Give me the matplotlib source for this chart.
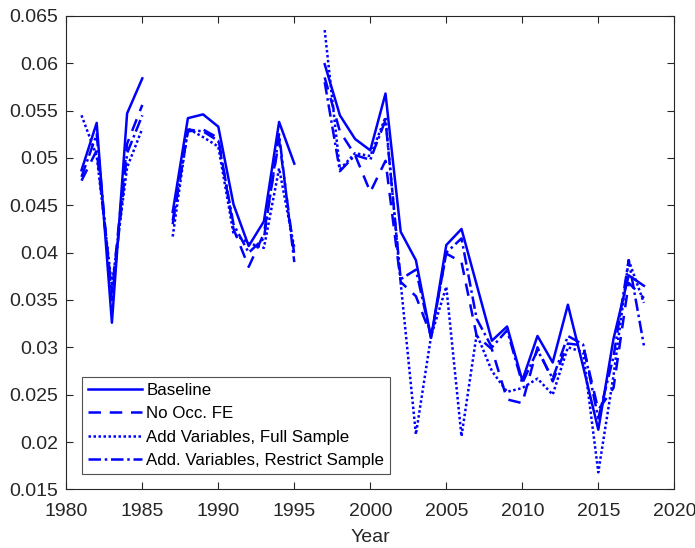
import numpy as np
import matplotlib
matplotlib.use('Agg')
import matplotlib.pyplot as plt

plt.rcParams['font.family'] = ['Liberation Sans', 'DejaVu Sans']

nan = np.nan
years = np.arange(1981, 2019)

# values, nan where the series has a gap
baseline = [0.0487, 0.0537, 0.0326, 0.0547, 0.0584, nan,
            0.0443, 0.0542, 0.0546, 0.0533, 0.0451, 0.0407, 0.0433, 0.0538, 0.0494, nan,
            0.0599, 0.0545, 0.0520, 0.0508, 0.0568, 0.0422, 0.0392, 0.0310, 0.0408, 0.0425,
            0.0366, 0.0307, 0.0322, 0.0265, 0.0312, 0.0284, 0.0345, 0.0280, 0.0213, 0.0309,
            0.0376, 0.0365]
no_occ_fe = [0.0476, 0.0508, 0.0358, 0.0515, 0.0556, nan,
             0.0434, 0.0528, 0.0530, 0.0521, 0.0425, 0.0385, 0.0420, 0.0519, 0.0398, nan,
             0.0585, 0.0528, 0.0503, 0.0464, 0.0497, 0.0369, 0.0354, 0.0312, 0.0399, 0.0390,
             0.0312, 0.0298, 0.0245, 0.0241, 0.0300, 0.0264, 0.0304, 0.0302, 0.0234, 0.0257,
             0.0368, 0.0352]
full_sample = [0.0545, 0.0502, 0.0365, 0.0490, 0.0531, nan,
               0.0417, 0.0531, 0.0522, 0.0512, 0.0420, 0.0410, 0.0405, 0.0489, 0.0405, nan,
               0.0635, 0.0488, 0.0505, 0.0502, 0.0543, 0.0368, 0.0208, 0.0312, 0.0364, 0.0206,
               0.0314, 0.0275, 0.0253, 0.0257, 0.0267, 0.0250, 0.0300, 0.0295, 0.0168, 0.0270,
               0.0392, 0.0347]
restrict_sample = [0.0480, 0.0525, 0.0350, 0.0505, 0.0545, nan,
                   0.0430, 0.0530, 0.0528, 0.0518, 0.0430, 0.0400, 0.0415, 0.0525, 0.0390, nan,
                   0.0580, 0.0486, 0.0503, 0.0498, 0.0540, 0.0372, 0.0382, 0.0310, 0.0400, 0.0415,
                   0.0330, 0.0300, 0.0318, 0.0262, 0.0297, 0.0267, 0.0312, 0.0303, 0.0225, 0.0290,
                   0.0392, 0.0302]

labels = ['Baseline', 'No Occ. FE', 'Add Variables, Full Sample',
          'Add. Variables, Restrict Sample']

yticks = [0.015, 0.02, 0.025, 0.03, 0.035, 0.04, 0.045, 0.05, 0.055, 0.06, 0.065]
ytick_labels = ['0.015', '0.02', '0.025', '0.03', '0.035', '0.04', '0.045',
                '0.05', '0.055', '0.06', '0.065']
xticks = [1980, 1985, 1990, 1995, 2000, 2005, 2010, 2015, 2020]

fig = plt.figure(figsize=(6.95, 5.48), dpi=100)
ax = fig.add_axes([0.0954, 0.107, 0.8748, 0.864])

lw = 1.8
ax.plot(years, baseline, color='b', lw=lw, linestyle='-', label=labels[0])
ax.plot(years, no_occ_fe, color='b', lw=lw, linestyle=(0, (5, 3.5)), label=labels[1])
ax.plot(years, full_sample, color='b', lw=lw, linestyle=(0, (1, 1)), label=labels[2])
ax.plot(years, restrict_sample, color='b', lw=lw, linestyle=(0, (5, 1.5, 1, 1.5)), label=labels[3])

ax.set_xlim(1980, 2020)
ax.set_ylim(0.015, 0.065)
ax.set_xticks(xticks)
ax.set_yticks(yticks)
ax.set_yticklabels(ytick_labels)
ax.tick_params(direction='in', top=True, right=True, labelsize=14, length=5,
               color='#262626', labelcolor='#262626', width=0.8)
ax.tick_params(axis='x', pad=10)
ax.tick_params(axis='y', pad=6)
for s in ax.spines.values():
    s.set_color('#262626')
    s.set_linewidth(0.8)

ax.set_xlabel('Year', fontsize=14, color='#262626', labelpad=6)

leg = ax.legend(loc='lower left', bbox_to_anchor=(0.026, 0.032), borderaxespad=0,
                fontsize=12.2, frameon=True, fancybox=False, handlelength=3.2,
                handletextpad=0.25, labelspacing=0.5, borderpad=0.35)
leg.get_frame().set_edgecolor('#262626')
leg.get_frame().set_linewidth(0.8)

fig.savefig('out.png', dpi=100)
